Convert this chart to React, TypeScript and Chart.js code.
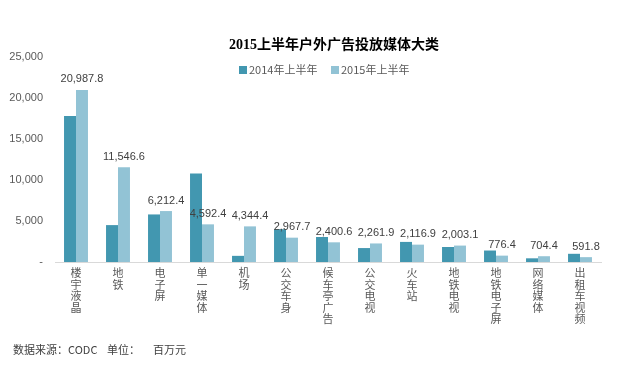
import React, { useEffect, useRef } from "react";
import { Chart, registerables } from "chart.js";

Chart.register(...registerables);

const categories = [
  "楼宇液晶", "地铁", "电子屏", "单一媒体", "机场", "公交车身", "候车亭广告",
  "公交电视", "火车站", "地铁电视", "地铁电子屏", "网络媒体", "出租车视频",
];
const series2014 = [17800, 4500, 5800, 10800, 750, 4000, 3050, 1700, 2450, 1830, 1400, 450, 1000];
const series2015 = [20987.8, 11546.6, 6212.4, 4592.4, 4344.4, 2967.7, 2400.6, 2261.9, 2116.9, 2003.1, 776.4, 704.4, 591.8];
const seriesNames = ["2014年上半年", "2015年上半年"];
const titleText = "2015上半年户外广告投放媒体大类";
const footerSource = "数据来源：CODC";
const footerUnitLabel = "单位：";
const footerUnit = "百万元";

const COLOR_2014 = "#4297b0";
const COLOR_2015 = "#92c3d5";
const CJK = "'Noto Sans CJK SC', 'Liberation Sans', sans-serif";

const fmt = (v: number) =>
  v.toLocaleString("en-US", { minimumFractionDigits: 1, maximumFractionDigits: 1 });

const decorPlugin = {
  id: "decor",
  afterDatasetsDraw(chart: any) {
    const ctx = chart.ctx;
    const meta = chart.getDatasetMeta(1);
    ctx.save();
    ctx.font = "11px 'Liberation Sans', Arial, sans-serif";
    ctx.fillStyle = "#404040";
    ctx.textAlign = "center";
    ctx.textBaseline = "bottom";
    meta.data.forEach((el: any, i: number) => {
      ctx.fillText(fmt(series2015[i]), el.x, el.y - 5);
    });
    ctx.restore();
  },
  afterDraw(chart: any) {
    const ctx = chart.ctx;
    ctx.save();
    // title
    ctx.font = "bold 14px 'Liberation Serif', 'Noto Sans CJK SC', serif";
    ctx.fillStyle = "#000000";
    ctx.textAlign = "center";
    ctx.textBaseline = "middle";
    ctx.fillText(titleText, 334, 45);
    // legend
    const colors = [COLOR_2014, COLOR_2015];
    const xs = [239, 331];
    ctx.font = `11px ${CJK}`;
    ctx.textAlign = "left";
    chart.data.datasets.forEach((ds: any, i: number) => {
      ctx.fillStyle = colors[i];
      ctx.fillRect(xs[i], 66, 8, 8);
      ctx.fillStyle = "#595959";
      ctx.fillText(ds.label, xs[i] + 10, 70);
    });
    // footer
    ctx.font = `11px ${CJK}`;
    ctx.fillStyle = "#404040";
    ctx.fillText(footerSource, 13, 350);
    ctx.fillText(footerUnitLabel, 107, 350);
    ctx.fillText(footerUnit, 153, 350);
    ctx.restore();
  },
};

export default function App() {
  const ref = useRef<HTMLCanvasElement | null>(null);
  useEffect(() => {
    if (!ref.current) return;
    const chart = new Chart(ref.current, {
      type: "bar",
      data: {
        labels: categories.map((c) => c.split("")),
        datasets: [
          { label: seriesNames[0], data: series2014, backgroundColor: COLOR_2014 },
          { label: seriesNames[1], data: series2015, backgroundColor: COLOR_2015 },
        ],
      },
      options: {
        responsive: false,
        maintainAspectRatio: false,
        animation: false,
        layout: { padding: { left: 0, right: 39, top: 57, bottom: 0 } },
        datasets: { bar: { barPercentage: 1, categoryPercentage: 0.57 } },
        plugins: {
          title: { display: false },
          legend: { display: false },
          tooltip: { enabled: false },
        },
        scales: {
          x: {
            grid: { display: false, drawTicks: false },
            border: { display: true, color: "#d9d9d9" },
            ticks: {
              color: "#595959",
              font: { size: 11, family: CJK, lineHeight: 1.05 },
              maxRotation: 0,
              minRotation: 0,
              autoSkip: false,
              padding: 5,
            },
            afterFit: (s: any) => { s.height = 108; },
          },
          y: {
            min: 0,
            max: 25000,
            grid: { display: false, drawTicks: false },
            border: { display: false },
            ticks: {
              stepSize: 5000,
              color: "#595959",
              padding: 12,
              font: { size: 11, family: "'Liberation Sans', Arial, sans-serif" },
              callback: (v: any) => (Number(v) === 0 ? "-" : Number(v).toLocaleString("en-US")),
            },
            afterFit: (s: any) => { s.width = 55; },
          },
        },
      },
      plugins: [decorPlugin],
    } as any);
    return () => chart.destroy();
  }, []);
  return (
    <div style={{ position: "absolute", left: 0, top: 0, width: 640, height: 370, background: "#fff" }}>
      <canvas ref={ref} width={640} height={370} />
    </div>
  );
}
